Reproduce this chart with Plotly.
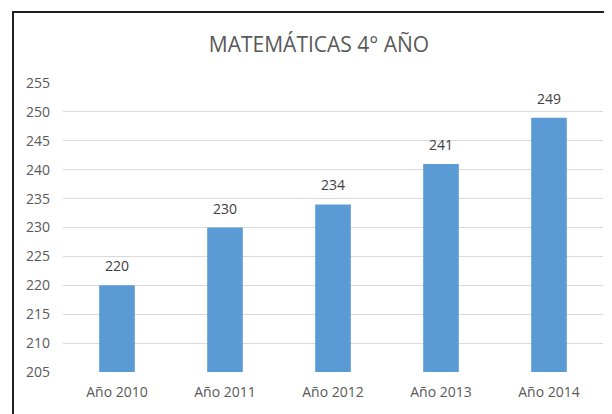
import plotly.graph_objects as go

years = ["Año 2010", "Año 2011", "Año 2012", "Año 2013", "Año 2014"]
scores = [220, 230, 234, 241, 249]

TITLE = "MATEMÁTICAS 4° AÑO"
BAR_COLOR = "#5B9BD5"
TEXT_COLOR = "#595959"
FONT = "Open Sans, Noto Sans, sans-serif"

# the page is shown with the browser's 8px body margin, so the figure is
# laid out 8px smaller and offset accordingly
W, H = 604, 406
L, T, R, B = 55, 75, 9, 42

fig = go.Figure()
fig.add_trace(go.Bar(
    x=years, y=scores,
    marker=dict(color=BAR_COLOR, line=dict(width=0)),
    width=0.33,
))

# value labels above each bar
for yr, v in zip(years, scores):
    fig.add_annotation(x=yr, y=v, text=str(v), showarrow=False,
                       yanchor="bottom", yshift=8,
                       font=dict(size=14, color="#404040", family=FONT))

fig.update_layout(
    width=W, height=H,
    paper_bgcolor="white", plot_bgcolor="white",
    margin=dict(l=L, r=R, t=T, b=B),
    showlegend=False,
    title=dict(text=TITLE, x=311 / W, xanchor="center", y=1 - 37 / H, yanchor="middle",
               font=dict(size=21, color=TEXT_COLOR, family=FONT)),
    font=dict(family=FONT, color=TEXT_COLOR, size=14),
)
fig.update_xaxes(showgrid=False, showline=False, ticks="", ticklabelstandoff=10,
                 tickfont=dict(size=14, color=TEXT_COLOR))
fig.update_yaxes(range=[205, 255], dtick=5, showgrid=True, gridcolor="#D9D9D9",
                 gridwidth=1, zeroline=False, showline=False, ticks="",
                 ticklabelstandoff=12, tickfont=dict(size=14, color=TEXT_COLOR))

# dark frame around the chart, cut off at the right and bottom edges
pw, ph = W - L - R, H - T - B
fig.add_shape(type="rect", xref="paper", yref="paper",
              x0=(5 - L) / pw, x1=1.3, y0=-0.3, y1=1 + (T - 4) / ph,
              line=dict(color="#202020", width=2), fillcolor="rgba(0,0,0,0)", layer="above")

fig.write_html("out.html")
